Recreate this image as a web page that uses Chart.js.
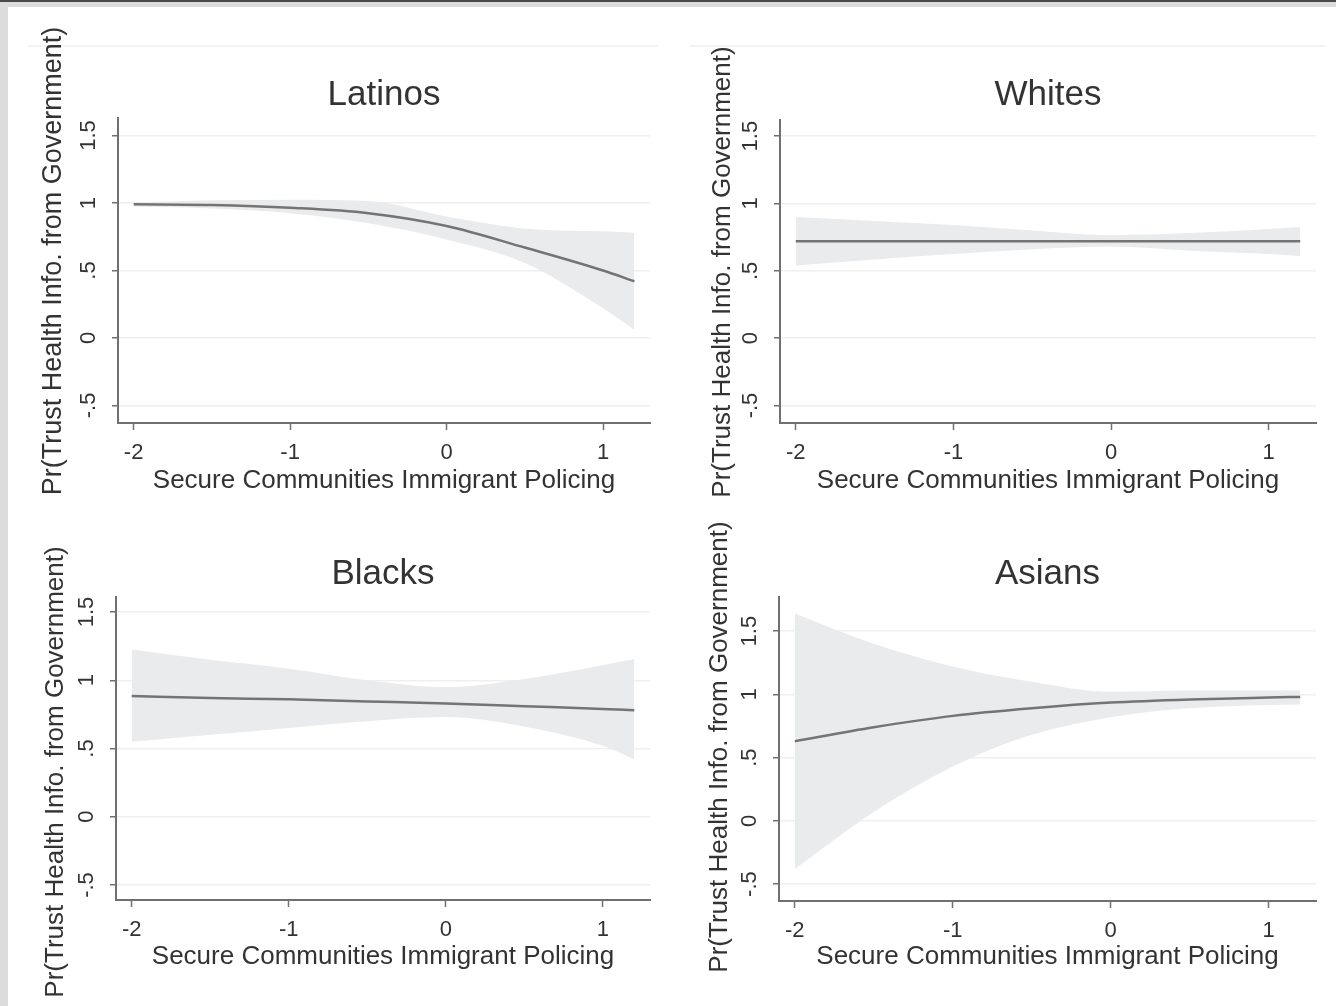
<!DOCTYPE html>
<html>
<head>
<meta charset="utf-8">
<script src="https://cdn.jsdelivr.net/npm/chart.js@4.4.0/dist/chart.umd.min.js"></script>
<style>
    html, body { margin: 0; padding: 0; background: #fff; }
    #page { position: relative; width: 1336px; height: 1006px; overflow: hidden; background: #fff; }
    .frame_left { position: absolute; left: 0; top: 0; width: 8px; height: 1006px; background: #dcdcdc; }
    .frame_band { position: absolute; left: 0; top: 2px; width: 1336px; height: 5px; background: #dcdcdc; }
    .frame_top { position: absolute; left: 0; top: 0; width: 1336px; height: 2px; background: #4a4a4a; }
    .faint { position: absolute; height: 2px; background: #f3f3f3; }
    canvas { position: absolute; }
</style>
</head>
<body>
<div id="page">
    <div class="frame_left"></div>
    <div class="frame_band"></div>
    <div class="frame_top"></div>
    <div class="faint" style="left:28px; top:45px; width:630px;"></div>
    <div class="faint" style="left:690px; top:45px; width:635px;"></div>
    <canvas id="chart_latinos" width="668" height="503" style="left:0; top:0;"></canvas>
    <canvas id="chart_whites" width="668" height="503" style="left:668px; top:0;"></canvas>
    <canvas id="chart_blacks" width="668" height="503" style="left:0; top:503px;"></canvas>
    <canvas id="chart_asians" width="668" height="503" style="left:668px; top:503px;"></canvas>
</div>
<script>
// x positions of the predicted values
const x_values = [-2, -1.5, -1, -0.5, 0, 0.5, 1, 1.2];

// tick values and labels
const x_ticks = [-2, -1, 0, 1];
const x_tick_labels = ['-2', '-1', '0', '1'];
const y_ticks = [-0.5, 0, 0.5, 1, 1.5];
const y_tick_labels = ['-.5', '0', '.5', '1', '1.5'];

// texts
const panel_titles = ['Latinos', 'Whites', 'Blacks', 'Asians'];
const x_title = 'Secure Communities Immigrant Policing';
const y_title = 'Pr(Trust Health Info. from Government)';

// Latinos
const latinos_fit   = [0.99, 0.985, 0.965, 0.925, 0.83, 0.67, 0.50, 0.42];
const latinos_upper = [1.005, 1.02, 1.025, 1.015, 0.90, 0.81, 0.79, 0.78];
const latinos_lower = [0.975, 0.96, 0.925, 0.85, 0.73, 0.555, 0.22, 0.06];

// Whites
const whites_fit   = [0.72, 0.72, 0.72, 0.72, 0.72, 0.72, 0.72, 0.72];
const whites_upper = [0.90, 0.87, 0.84, 0.80, 0.765, 0.78, 0.81, 0.825];
const whites_lower = [0.54, 0.585, 0.625, 0.66, 0.68, 0.65, 0.625, 0.61];

// Blacks
const blacks_fit   = [0.885, 0.87, 0.86, 0.845, 0.83, 0.81, 0.79, 0.78];
const blacks_upper = [1.225, 1.15, 1.085, 1.0, 0.95, 1.01, 1.11, 1.155];
const blacks_lower = [0.55, 0.60, 0.65, 0.70, 0.73, 0.66, 0.52, 0.42];

// Asians
const asians_fit   = [0.63, 0.74, 0.83, 0.89, 0.935, 0.96, 0.975, 0.98];
const asians_upper = [1.64, 1.40, 1.22, 1.10, 1.02, 1.03, 1.03, 1.03];
const asians_lower = [-0.38, 0.07, 0.43, 0.68, 0.82, 0.89, 0.915, 0.92];

// colours and fonts
const text_color = '#333333';
const axis_color = '#707070';
const grid_color = '#efefef';
const band_color = 'rgb(234,235,236)';
const line_color = '#747474';
const font_family = '"Liberation Sans", Arial, Helvetica, sans-serif';

// panel layout (canvas coordinates)
const panels = [
    { id: 'chart_latinos', title: panel_titles[0], fit: latinos_fit, upper: latinos_upper, lower: latinos_lower,
      area: { left: 118, right: 650, top: 118, bottom: 423 }, y_min: -0.63, y_max: 1.63,
      title_y: 95, x_title_y: 481, y_title_pos: { x: 54, y: 261, size: 27 } },
    { id: 'chart_whites', title: panel_titles[1], fit: whites_fit, upper: whites_upper, lower: whites_lower,
      area: { left: 112, right: 648, top: 120, bottom: 423 }, y_min: -0.63, y_max: 1.62,
      title_y: 95, x_title_y: 481, y_title_pos: { x: 55, y: 272, size: 26 } },
    { id: 'chart_blacks', title: panel_titles[2], fit: blacks_fit, upper: blacks_upper, lower: blacks_lower,
      area: { left: 116, right: 650, top: 94, bottom: 397 }, y_min: -0.61, y_max: 1.61,
      title_y: 71, x_title_y: 454, y_title_pos: { x: 56, y: 269, size: 26 } },
    { id: 'chart_asians', title: panel_titles[3], fit: asians_fit, upper: asians_upper, lower: asians_lower,
      area: { left: 111, right: 648, top: 94, bottom: 398 }, y_min: -0.634, y_max: 1.77,
      title_y: 71, x_title_y: 454, y_title_pos: { x: 52, y: 244, size: 26 } }
];

// rotated y axis title drawn at a fixed place
const y_title_plugin = {
    id: 'y_title',
    afterDraw(chart, args, opts) {
        const ctx = chart.ctx;
        ctx.save();
        ctx.translate(opts.x, opts.y);
        ctx.rotate(-Math.PI / 2);
        ctx.font = opts.size + 'px ' + font_family;
        ctx.fillStyle = text_color;
        ctx.textAlign = 'center';
        ctx.textBaseline = 'middle';
        ctx.fillText(opts.text, 0, 0);
        ctx.restore();
    }
};

// build {x, y} points
function to_points(values) {
    return x_values.map(function(x, i) { return { x: x, y: values[i] }; });
}

// create one panel
function create_chart(panel) {
    const canvas = document.getElementById(panel.id);
    const ctx = canvas.getContext('2d');
    const title_size = 35;
    const title_line = title_size * 1.2;
    const title_pad_top = panel.title_y - title_line / 2;
    const title_pad_bottom = panel.area.top - title_pad_top - title_line;
    const x_title_size = 26;
    const x_axis_height = canvas.height - panel.area.bottom;
    const x_title_pad_bottom = canvas.height - panel.x_title_y - x_title_size * 1.2 / 2;

    new Chart(ctx, {
        type: 'line',
        data: {
            datasets: [
                {
                    // fitted line (on top)
                    data: to_points(panel.fit),
                    borderColor: line_color,
                    borderWidth: 2.5,
                    pointRadius: 0,
                    fill: false,
                    cubicInterpolationMode: 'monotone'
                },
                {
                    // upper bound
                    data: to_points(panel.upper),
                    borderWidth: 0,
                    borderColor: 'rgba(0,0,0,0)',
                    pointRadius: 0,
                    fill: false,
                    cubicInterpolationMode: 'monotone'
                },
                {
                    // lower bound, filled up to the upper bound
                    data: to_points(panel.lower),
                    borderWidth: 0,
                    borderColor: 'rgba(0,0,0,0)',
                    backgroundColor: band_color,
                    pointRadius: 0,
                    fill: '-1',
                    cubicInterpolationMode: 'monotone'
                }
            ]
        },
        options: {
            responsive: false,
            animation: false,
            layout: {
                padding: { left: 0, top: 0, bottom: 0, right: canvas.width - panel.area.right }
            },
            scales: {
                x: {
                    type: 'linear',
                    min: -2.1,
                    max: 1.3,
                    afterFit: function(scale) { scale.height = x_axis_height; },
                    afterBuildTicks: function(scale) {
                        scale.ticks = x_ticks.map(function(v) { return { value: v }; });
                    },
                    ticks: {
                        color: text_color,
                        font: { family: font_family, size: 22 },
                        padding: 10,
                        maxRotation: 0,
                        minRotation: 0,
                        callback: function(value) {
                            const i = x_ticks.indexOf(value);
                            return i >= 0 ? x_tick_labels[i] : '';
                        }
                    },
                    grid: {
                        drawOnChartArea: false,
                        drawTicks: true,
                        tickLength: 7,
                        tickColor: axis_color,
                        tickWidth: 1.5
                    },
                    border: { color: axis_color, width: 2 },
                    title: {
                        display: true,
                        text: x_title,
                        color: text_color,
                        font: { family: font_family, size: x_title_size },
                        padding: { top: 0, bottom: x_title_pad_bottom }
                    }
                },
                y: {
                    type: 'linear',
                    min: panel.y_min,
                    max: panel.y_max,
                    afterFit: function(scale) { scale.width = panel.area.left; },
                    afterBuildTicks: function(scale) {
                        scale.ticks = y_ticks.map(function(v) { return { value: v }; });
                    },
                    ticks: {
                        color: text_color,
                        font: { family: font_family, size: 22 },
                        padding: 8,
                        minRotation: 90,
                        maxRotation: 90,
                        crossAlign: 'center',
                        callback: function(value) {
                            const i = y_ticks.indexOf(value);
                            return i >= 0 ? y_tick_labels[i] : '';
                        }
                    },
                    grid: {
                        color: grid_color,
                        lineWidth: 1.5,
                        drawTicks: true,
                        tickLength: 6,
                        tickColor: axis_color,
                        tickWidth: 1.5
                    },
                    border: { color: axis_color, width: 2 }
                }
            },
            plugins: {
                legend: { display: false },
                tooltip: { enabled: false },
                title: {
                    display: true,
                    text: panel.title,
                    fullSize: false,
                    color: text_color,
                    font: { family: font_family, size: title_size, weight: 'normal' },
                    padding: { top: title_pad_top, bottom: title_pad_bottom }
                },
                y_title: {
                    text: y_title,
                    x: panel.y_title_pos.x,
                    y: panel.y_title_pos.y,
                    size: panel.y_title_pos.size
                }
            }
        },
        plugins: [y_title_plugin]
    });
}

// draw all four panels
panels.forEach(function(panel) {
    create_chart(panel);
});
</script>
</body>
</html>
